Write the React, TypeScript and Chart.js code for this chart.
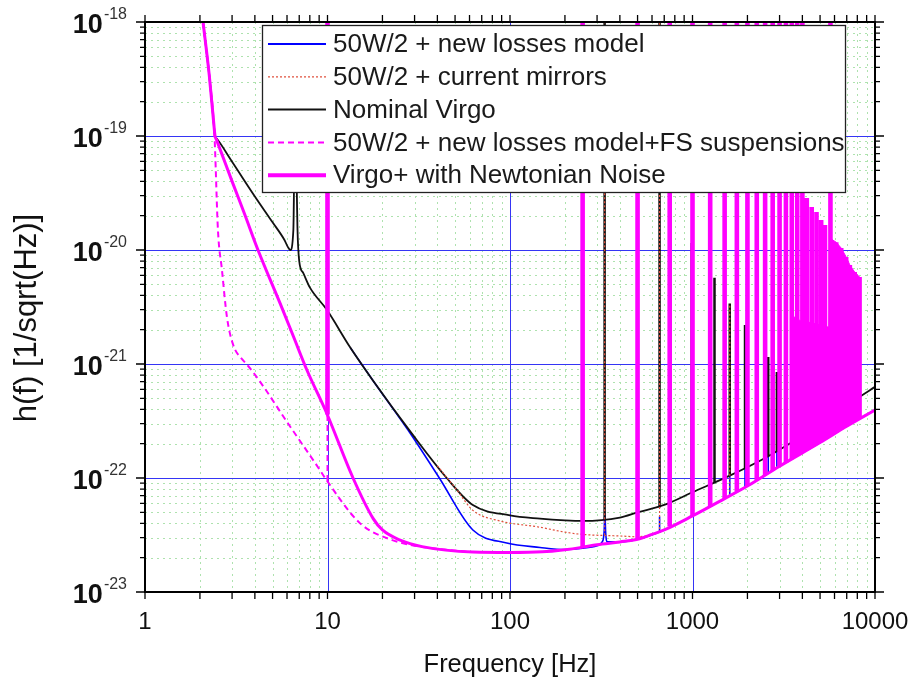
import React, { useEffect, useRef } from 'react';
import { Chart, registerables } from 'chart.js';

Chart.register(...registerables);

// ---------------- data ----------------
const seriesNames = [
  '50W/2 + new losses model',
  '50W/2 + current mirrors',
  'Nominal Virgo',
  '50W/2 + new losses model+FS suspensions',
  'Virgo+ with Newtonian Noise',
];

const xTickValues = [1, 10, 100, 1000, 10000];
const xTickLabels = ['1', '10', '100', '1000', '10000'];
const yTickValues = [1e-18, 1e-19, 1e-20, 1e-21, 1e-22, 1e-23];
const yTickBase = '10';
const yTickExps = ['-18', '-19', '-20', '-21', '-22', '-23'];
const xTitle = 'Frequency [Hz]';
const yTitle = 'h(f) [1/sqrt(Hz)]';

// Virgo+ with Newtonian Noise (solid magenta) - smooth floor
const nnFreq = [2.08, 2.25, 2.38, 2.42, 2.47, 3.0, 3.5, 4.16, 5.5, 6.5, 7.7, 9.9, 13.8, 17.8, 20, 25, 33, 62.6, 100, 150, 200, 242, 300, 400, 500, 600, 700, 1000, 1500, 2000, 3000, 5000, 7000, 10000];
const nnH = [1e-18, 3.4e-19, 1.3e-19, 1e-19, 9.2e-20, 4.0e-20, 2.1e-20, 1e-20, 3.4e-21, 1.75e-21, 8.9e-22, 3.7e-22, 1e-22, 4.4e-23, 3.5e-23, 2.85e-23, 2.5e-23, 2.24e-23, 2.22e-23, 2.25e-23, 2.35e-23, 2.45e-23, 2.6e-23, 2.75e-23, 2.9e-23, 3.2e-23, 3.5e-23, 4.65e-23, 6.6e-23, 8.5e-23, 1.27e-22, 2.05e-22, 2.85e-22, 3.95e-22];
// its resonance lines
const nnSpikeFreq = [10, 250, 500, 750, 1000, 1250, 1500, 1750, 2000, 2250, 2500, 2750, 3000, 3250, 3500, 3750, 4000, 4230, 4500, 4780, 5070, 5320, 5700, 6130, 6530, 6950, 7280, 7740, 8230];
const nnSpikeBase = [3.6e-22, 2.45e-23, 2.9e-23, 3.75e-23, 4.65e-23, 5.6e-23, 6.6e-23, 7.6e-23, 8.5e-23, 9.6e-23, 1.06e-22, 1.16e-22, 1.27e-22, 1.36e-22, 1.46e-22, 1.56e-22, 1.66e-22, 1.75e-22, 1.86e-22, 1.97e-22, 2.08e-22, 2.18e-22, 2.33e-22, 2.5e-22, 2.67e-22, 2.83e-22, 2.95e-22, 3.13e-22, 3.33e-22];
const nnSpikeTop = [1e-18, 1e-18, 1e-18, 1e-18, 1e-18, 1e-18, 1e-18, 1e-18, 1e-18, 1e-18, 1e-18, 1e-18, 1e-18, 1e-18, 1e-18, 1e-18, 1e-18, 2.86e-20, 2.38e-20, 2.15e-20, 1.83e-20, 1.66e-20, 1e-18, 1.17e-20, 1.04e-20, 8.7e-21, 7.4e-21, 6.4e-21, 5.8e-21];
// dense comb of lines at high frequency (envelope)
const combFreq = [3450, 3900, 4500, 5000, 5600, 5750, 6130, 6530, 6950, 7280, 7740, 8230, 8300];
const combTop = [2.7e-21, 2.4e-21, 2.3e-21, 2.2e-21, 2.1e-21, 1.25e-20, 1.17e-20, 1.04e-20, 8.7e-21, 7.4e-21, 6.4e-21, 5.8e-21, 3.36e-22];
const combBottom = [1.44e-22, 1.62e-22, 1.86e-22, 2.05e-22, 2.29e-22, 2.35e-22, 2.5e-22, 2.67e-22, 2.83e-22, 2.95e-22, 3.13e-22, 3.3e-22, 3.33e-22];

// 50W/2 + new losses model + FS suspensions (dashed magenta)
const fsFreq = [2.08, 2.25, 2.4, 2.51, 2.64, 2.81, 3.03, 3.44, 3.6, 4.38, 6.0, 9.1, 9.7, 15.1, 22, 30, 60];
const fsH = [1e-18, 3.4e-19, 1.05e-19, 1.5e-20, 6.7e-21, 2.6e-21, 1.5e-21, 1.08e-21, 1.0e-21, 6.6e-22, 3.1e-22, 1.17e-22, 1.0e-22, 4.0e-23, 2.9e-23, 2.55e-23, 2.24e-23];
const fsSpikeFreq = [10];
const fsSpikeBase = [9.4e-23];
const fsSpikeTop = [1e-18];

// 50W/2 + current mirrors (red dotted)
const cmFreq = [40, 51, 62.6, 88, 146, 200, 250, 400, 500, 600, 700, 1000, 1500, 2000, 3000, 5000, 7000, 10000];
const cmH = [1.28e-22, 7.9e-23, 5.2e-23, 4.2e-23, 3.7e-23, 3.35e-23, 3.2e-23, 3.1e-23, 3.05e-23, 3.2e-23, 3.5e-23, 4.65e-23, 6.6e-23, 8.5e-23, 1.27e-22, 2.05e-22, 2.85e-22, 3.95e-22];
const cmSpikeFreq = [330, 660, 990, 1600];
const cmSpikeBase = [3.15e-23, 3.3e-23, 4.6e-23, 7e-23];
const cmSpikeTop = [1e-18, 1e-18, 1.15e-20, 3.4e-21];

// Nominal Virgo (black)
const nvFreq = [2.08, 2.25, 2.38, 2.42, 2.47, 3.0, 4.0, 5.0, 5.8, 6.07, 6.25, 6.5, 6.65, 6.85, 7.0, 7.36, 8.0, 9.9, 13.3, 17.7, 29, 45, 62.6, 100, 146, 200, 250, 400, 500, 700, 1000, 1600, 2500, 4000, 6000, 8000, 10000];
const nvH = [1e-18, 3.4e-19, 1.3e-19, 1e-19, 9.5e-20, 5.95e-20, 2.95e-20, 1.75e-20, 1.23e-20, 1.06e-20, 1.0e-20, 1.5e-20, 2e-19, 1.5e-20, 8e-21, 6.3e-21, 4.7e-21, 3.0e-21, 1.4e-21, 7.2e-22, 2.45e-22, 1e-22, 5.8e-23, 4.7e-23, 4.4e-23, 4.25e-23, 4.2e-23, 4.5e-23, 5e-23, 5.8e-23, 7.5e-23, 1.05e-22, 1.5e-22, 2.35e-22, 3.6e-22, 5.0e-22, 6.3e-22];
const nvSpikeFreq = [330, 660, 990, 1320, 1600, 1940, 2600, 2900];
const nvSpikeBase = [4.3e-23, 5.5e-23, 7.4e-23, 9e-23, 1.05e-22, 1.2e-22, 1.55e-22, 1.7e-22];
const nvSpikeTop = [1e-18, 1e-18, 1.15e-20, 5.7e-21, 3.4e-21, 2.2e-21, 1.15e-21, 8.5e-22];

// 50W/2 + new losses model (blue)
const nlFreq = [13.3, 17.7, 29, 41, 62.6, 96, 146, 200, 250, 300, 320, 328, 331, 334, 342, 400, 500, 700, 1000, 1500, 2000, 3000, 5000, 7000, 10000];
const nlH = [1.4e-21, 7.2e-22, 2.35e-22, 1e-22, 3.5e-23, 2.69e-23, 2.46e-23, 2.36e-23, 2.42e-23, 2.55e-23, 2.75e-23, 3.4e-23, 5e-23, 3.4e-23, 2.75e-23, 2.75e-23, 2.9e-23, 3.5e-23, 4.65e-23, 6.6e-23, 8.5e-23, 1.27e-22, 2.05e-22, 2.85e-22, 3.95e-22];
const nlSpikeFreq = [660, 1600, 1940, 2600, 2900];
const nlSpikeBase = [3.3e-23, 7e-23, 8.2e-23, 1.1e-22, 1.22e-22];
const nlSpikeTop = [4.6e-23, 1.17e-22, 1.25e-22, 1.76e-22, 1.9e-22];

// ---------------- helpers ----------------
type P = { x: number; y: number | null };
const curve = (f: number[], h: number[]): P[] => f.map((v, i) => ({ x: v, y: h[i] }));
const spikes = (f: number[], base: number[], top: number[]): P[] => {
  const out: P[] = [];
  f.forEach((v, i) => {
    out.push({ x: v, y: base[i] }, { x: v, y: top[i] }, { x: v, y: null });
  });
  return out;
};

const FONT = '"Liberation Sans", Arial, Helvetica, sans-serif';
const MAGENTA = '#ff00ff';
const BLUE = '#0000ff';
const BLACK = '#111111';
const RED = '#e0503c';

const legendStyles = [
  { color: BLUE, width: 2, dash: [] as number[] },
  { color: RED, width: 1.2, dash: [2, 2] },
  { color: BLACK, width: 2, dash: [] as number[] },
  { color: MAGENTA, width: 2, dash: [6, 4] },
  { color: MAGENTA, width: 4, dash: [] as number[] },
];

const decor = {
  id: 'decor',
  beforeDatasetsDraw(chart: any) {
    const { ctx, chartArea: a, scales } = chart;
    const xs = scales.x;
    const ys = scales.y;
    ctx.save();
    ctx.lineWidth = 1;
    // minor grid
    ctx.strokeStyle = '#aee2ae';
    ctx.setLineDash([2, 4]);
    ctx.beginPath();
    for (let d = 0; d < 4; d++) {
      for (let k = 2; k <= 9; k++) {
        const px = Math.round(xs.getPixelForValue(k * Math.pow(10, d))) + 0.5;
        ctx.moveTo(px, a.top);
        ctx.lineTo(px, a.bottom);
      }
    }
    for (let e = -23; e < -18; e++) {
      for (let k = 2; k <= 9; k++) {
        const py = Math.round(ys.getPixelForValue(k * Math.pow(10, e))) + 0.5;
        ctx.moveTo(a.left, py);
        ctx.lineTo(a.right, py);
      }
    }
    ctx.stroke();
    // major grid
    ctx.setLineDash([]);
    ctx.strokeStyle = '#3535f5';
    ctx.beginPath();
    for (let d = 1; d < 4; d++) {
      const px = Math.round(xs.getPixelForValue(Math.pow(10, d))) + 0.5;
      ctx.moveTo(px, a.top);
      ctx.lineTo(px, a.bottom);
    }
    for (let e = -22; e < -18; e++) {
      const py = Math.round(ys.getPixelForValue(Math.pow(10, e))) + 0.5;
      ctx.moveTo(a.left, py);
      ctx.lineTo(a.right, py);
    }
    ctx.stroke();
    ctx.restore();
  },
  afterDraw(chart: any) {
    const { ctx, chartArea: a, scales } = chart;
    const xs = scales.x;
    const ys = scales.y;
    ctx.save();
    // ticks
    ctx.strokeStyle = '#000';
    ctx.lineWidth = 1.3;
    ctx.setLineDash([]);
    ctx.beginPath();
    for (let d = 0; d < 4; d++) {
      for (let k = 1; k <= 10; k++) {
        const px = xs.getPixelForValue(k * Math.pow(10, d));
        ctx.moveTo(px, a.bottom);
        ctx.lineTo(px, a.bottom + 7);
        ctx.moveTo(px, a.top);
        ctx.lineTo(px, a.top - 7);
      }
    }
    for (let e = -23; e < -18; e++) {
      for (let k = 1; k <= 10; k++) {
        const py = ys.getPixelForValue(k * Math.pow(10, e));
        const len = k === 1 || k === 10 ? 9 : 5;
        ctx.moveTo(a.left, py);
        ctx.lineTo(a.left - len, py);
        ctx.moveTo(a.right, py);
        ctx.lineTo(a.right + len, py);
      }
    }
    ctx.stroke();
    // frame
    ctx.lineWidth = 2;
    ctx.strokeRect(a.left, a.top, a.right - a.left, a.bottom - a.top);

    // x tick labels
    ctx.fillStyle = '#111';
    ctx.font = `24px ${FONT}`;
    ctx.textAlign = 'center';
    ctx.textBaseline = 'middle';
    xTickValues.forEach((v, i) => {
      ctx.fillText(xTickLabels[i], xs.getPixelForValue(v), a.bottom + 30);
    });
    // y tick labels with superscript exponent
    ctx.textAlign = 'right';
    yTickValues.forEach((v, i) => {
      const py = ys.getPixelForValue(v);
      const right = a.left - 18;
      ctx.font = `16px ${FONT}`;
      ctx.fillStyle = '#333';
      ctx.textBaseline = 'alphabetic';
      const w = ctx.measureText(yTickExps[i]).width;
      ctx.fillText(yTickExps[i], right, py - 3);
      ctx.font = `bold 27px ${FONT}`;
      ctx.fillStyle = '#111';
      ctx.textBaseline = 'middle';
      ctx.fillText(yTickBase, right - w - 1, py + 4);
    });
    // axis titles
    ctx.fillStyle = '#111';
    ctx.font = `25.5px ${FONT}`;
    ctx.textAlign = 'center';
    ctx.textBaseline = 'middle';
    ctx.fillText(xTitle, (a.left + a.right) / 2, a.bottom + 73);
    ctx.save();
    ctx.font = `31px ${FONT}`;
    ctx.translate(27, 318);
    ctx.rotate(-Math.PI / 2);
    ctx.fillText(yTitle, 0, 0);
    ctx.restore();

    // legend
    const lx = 262, ly = 25, lw = 583, lh = 167;
    ctx.fillStyle = '#ffffff';
    ctx.fillRect(lx, ly, lw, lh);
    ctx.strokeStyle = '#222';
    ctx.lineWidth = 1.3;
    ctx.strokeRect(lx + 0.5, ly + 0.5, lw, lh);
    ctx.font = `26px ${FONT}`;
    ctx.textAlign = 'left';
    ctx.textBaseline = 'middle';
    seriesNames.forEach((name, i) => {
      const cy = ly + 19 + i * 32.8;
      const st = legendStyles[i];
      ctx.strokeStyle = st.color;
      ctx.lineWidth = st.width;
      ctx.setLineDash(st.dash);
      ctx.beginPath();
      ctx.moveTo(268, cy);
      ctx.lineTo(326, cy);
      ctx.stroke();
      ctx.setLineDash([]);
      ctx.fillStyle = '#1a1a1a';
      ctx.fillText(name, 333, cy + 1);
    });
    ctx.restore();
  },
};

export default function App() {
  const ref = useRef<HTMLCanvasElement | null>(null);
  useEffect(() => {
    if (!ref.current) return;
    const base = { pointRadius: 0, pointHoverRadius: 0, tension: 0, spanGaps: false, fill: false };
    const smooth = { cubicInterpolationMode: 'monotone' };
    const chart = new Chart(ref.current, {
      type: 'line',
      data: {
        datasets: [
          { ...base, label: seriesNames[4], data: spikes(nnSpikeFreq, nnSpikeBase, nnSpikeTop), borderColor: MAGENTA, borderWidth: 4.6, order: 0 },
          { ...base, ...smooth, label: seriesNames[4], data: curve(nnFreq, nnH), borderColor: MAGENTA, borderWidth: 3, order: 1 },
          { ...base, label: 'comb-bottom', data: curve(combFreq, combBottom), borderColor: MAGENTA, borderWidth: 0, order: 2 },
          { ...base, label: 'comb-top', data: curve(combFreq, combTop), borderColor: MAGENTA, borderWidth: 1, backgroundColor: MAGENTA, fill: '-1', order: 2 },
          { ...base, ...smooth, label: seriesNames[3], data: curve(fsFreq, fsH), borderColor: MAGENTA, borderWidth: 2, borderDash: [6, 4], order: 3 },
          { ...base, label: seriesNames[3], data: spikes(fsSpikeFreq, fsSpikeBase, fsSpikeTop), borderColor: MAGENTA, borderWidth: 2, borderDash: [6, 4], order: 3 },
          { ...base, ...smooth, label: seriesNames[1], data: curve(cmFreq, cmH), borderColor: RED, borderWidth: 1.2, borderDash: [2, 2], order: 4 },
          { ...base, label: seriesNames[1], data: spikes(cmSpikeFreq, cmSpikeBase, cmSpikeTop), borderColor: RED, borderWidth: 1.2, borderDash: [2, 2], order: 4 },
          { ...base, ...smooth, label: seriesNames[2], data: curve(nvFreq, nvH), borderColor: BLACK, borderWidth: 1.8, order: 5 },
          { ...base, label: seriesNames[2], data: spikes(nvSpikeFreq, nvSpikeBase, nvSpikeTop), borderColor: BLACK, borderWidth: 2.5, order: 5 },
          { ...base, ...smooth, label: seriesNames[0], data: curve(nlFreq, nlH), borderColor: BLUE, borderWidth: 1.6, order: 6 },
          { ...base, label: seriesNames[0], data: spikes(nlSpikeFreq, nlSpikeBase, nlSpikeTop), borderColor: BLUE, borderWidth: 1.6, order: 6 },
        ] as any,
      },
      options: {
        responsive: false,
        animation: false,
        devicePixelRatio: 1,
        events: [],
        layout: { padding: { left: 145, top: 22, right: 42, bottom: 96 } },
        plugins: { legend: { display: false }, tooltip: { enabled: false }, title: { display: false } },
        scales: {
          x: { type: 'logarithmic', min: 1, max: 10000, display: false },
          y: { type: 'logarithmic', min: 1e-23, max: 1e-18, display: false },
        },
      } as any,
      plugins: [decor],
    });
    return () => chart.destroy();
  }, []);
  return (
    <div style={{ position: 'absolute', left: 0, top: 0, width: 917, height: 688, background: '#fff' }}>
      <canvas ref={ref} width={917} height={688} style={{ display: 'block' }} />
    </div>
  );
}
